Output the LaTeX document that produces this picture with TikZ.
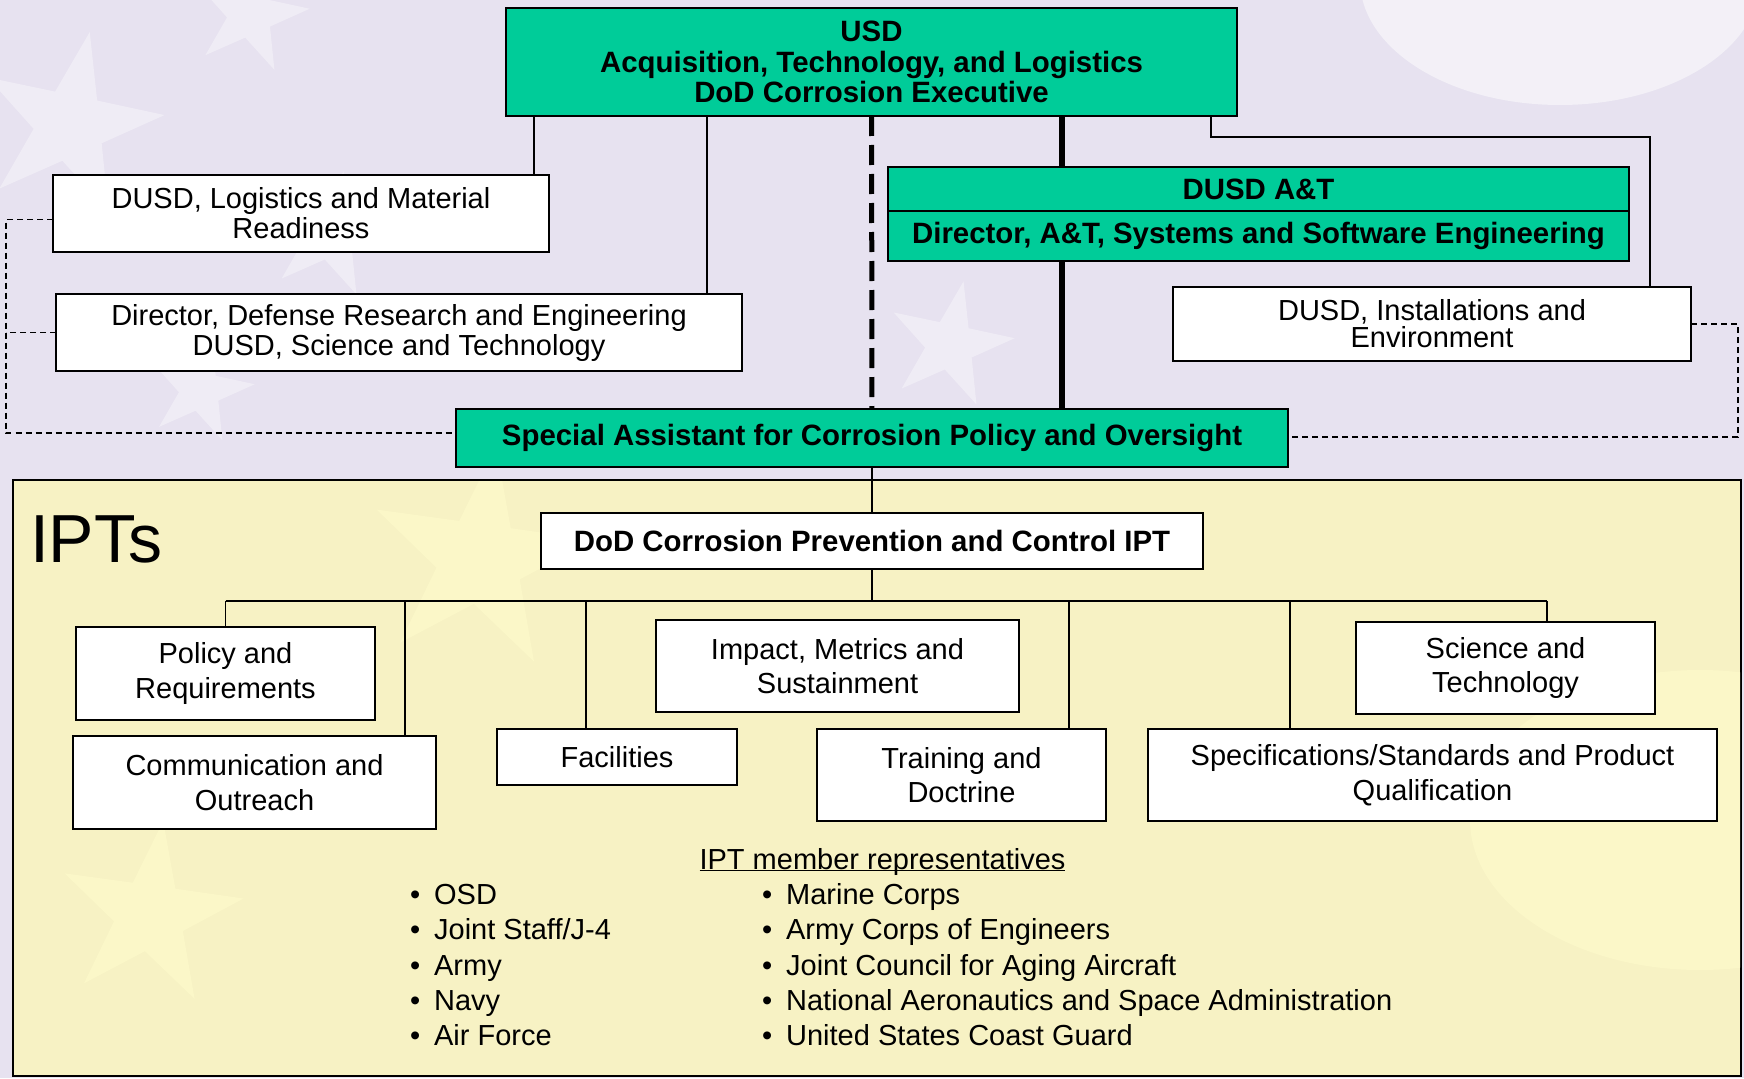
\documentclass[tikz,border=0pt]{standalone}
\usepackage{fontspec}
\setmainfont{Liberation Sans}
\usepackage{xcolor}
\usepackage{tikz}
\usetikzlibrary{shapes.geometric}

\definecolor{boxgreen}{RGB}{0,204,153}
\definecolor{backdrop}{RGB}{231,226,240}
\definecolor{iptfill}{RGB}{247,242,196}
\definecolor{iptglow}{RGB}{251,247,200}

\begin{document}
\begin{tikzpicture}[x=1pt, y=-1pt,
        every node/.style={inner sep=0pt, outer sep=0pt},
        office/.style={draw, line width=1.8pt, fill=white, align=center, font=\fontsize{29}{30}\selectfont},
        team/.style={office, font=\fontsize{29}{34.5}\selectfont},
        head/.style={office, fill=boxgreen, font=\fontsize{29.4}{30.5}\selectfont\bfseries},
        flagstar/.style={star, star points=5, star point ratio=2.6},
        link/.style={line width=1.4pt},
        dashlink/.style={line width=1.4pt, dash pattern=on 6pt off 4pt},
        heavylink/.style={line width=6.5pt},
        heavydash/.style={line width=5pt, dash pattern=on 20pt off 9pt},
        member/.style={anchor=base west, font=\fontsize{29}{34}\selectfont}]

    \useasboundingbox (0,0) rectangle (1744,1078);
    \fill [backdrop] (0,0) rectangle (1744,1078);
    \fill [white, opacity=0.5] (1560,-20) ellipse [x radius=200, y radius=125];
    % faint stars of the backdrop
    \foreach \x/\y/\r [count=\i] in {70/125/190, 250/15/120, 330/235/130, 950/345/130, 200/390/110}
        \node (sky\i) at (\x,\y) [flagstar, fill=white, opacity=0.35, minimum size=\r, rotate=-12] {};

    % IPT frame
    \node (ipts) at (877,778) [draw, line width=2pt, fill=iptfill, minimum width=1728, minimum height=596] {};
    \begin{scope}
        \clip ([xshift=1pt, yshift=-1pt]ipts.north west) rectangle ([xshift=-1pt, yshift=1pt]ipts.south east);
        \fill [iptglow] (1700,820) ellipse [x radius=230, y radius=150];
        \foreach \x/\y/\r [count=\i] in {150/915/190, 480/560/230}
            \node (glow\i) at (\x,\y) [flagstar, fill=iptglow, minimum size=\r, rotate=-8] {};
    \end{scope}
    \node (iptlabel) at (30,562) [anchor=base west, font=\fontsize{68}{72}\selectfont] {IPTs};

    % offices
    \node (usd) at (871.5,62) [head, minimum width=731, minimum height=108] {USD\\Acquisition, Technology, and Logistics\\DoD Corrosion Executive};
    \node (log) at (301,213.5) [office, minimum width=496, minimum height=77] {DUSD, Logistics and Material\\Readiness};
    \node (dre) at (399,332.5) [office, minimum width=686, minimum height=77] {Director, Defense Research and Engineering\\DUSD, Science and Technology};
    \node (ata) at (1258.5,189) [head, minimum width=741, minimum height=44] {DUSD A\&T};
    \node (atb) at (1258.5,236) [head, minimum width=741, minimum height=50] {Director, A\&T, Systems and Software Engineering};
    \node (ie) at (1432,324) [office, font=\fontsize{29}{27}\selectfont, minimum width=518, minimum height=74] {DUSD, Installations and\\Environment};
    \node (spa) at (872,438) [head, minimum width=832, minimum height=58] {Special Assistant for Corrosion Policy and Oversight};

    % teams
    \node (dod) at (872,541) [office, font=\fontsize{29.4}{30}\selectfont\bfseries, minimum width=662, minimum height=56] {DoD Corrosion Prevention and Control IPT};
    \node (pol) at (225.5,673.5) [team, minimum width=299, minimum height=93] {Policy and\\Requirements};
    \node (comm) at (254.5,782.5) [team, minimum width=363, minimum height=93] {Communication and\\Outreach};
    \node (fac) at (617,757) [team, minimum width=240, minimum height=56] {Facilities};
    \node (imp) at (837.5,666) [team, minimum width=363, minimum height=92] {Impact, Metrics and\\Sustainment};
    \node (trn) at (961.5,775) [team, minimum width=289, minimum height=92] {Training and\\Doctrine};
    \node (spec) at (1432.5,775) [team, minimum width=569, minimum height=92] {Specifications/Standards and Product\\Qualification};
    \node (sci) at (1505.5,668) [team, minimum width=299, minimum height=92] {Science and\\Technology};

    % lines from the top
    \draw [link] (usd.south -| 534,0) -- (log.north -| 534,0);
    \draw [link] (usd.south -| 707,0) -- (dre.north -| 707,0);
    \draw [heavydash] (usd) -- (spa);
    \draw [heavylink] (usd.south -| 1062,0) -- (ata.north -| 1062,0);
    \draw [heavylink] (atb.south -| 1062,0) -- (spa.north -| 1062,0);
    \coordinate (ietap) at (1650,137);
    \draw [link] (usd.south -| 1211,0) |- (ietap) -- (ietap |- ie.north);

    % dotted side lines
    \coordinate (lcorner) at (6,433);
    \coordinate (rcorner) at (1738,437);
    \draw [dashlink] ([yshift=-6pt]log.west) -| (lcorner) -- (lcorner -| spa.west);
    \draw [dashlink] (dre.west) -- (dre.west -| lcorner);
    \draw [dashlink] (ie.east) -| (rcorner) -- (rcorner -| spa.east);

    % IPT tree
    \coordinate (busL) at (225.5,601);
    \coordinate (busR) at (1547,601);
    \draw [link] (spa) -- (dod);
    \draw [link] (dod) -- (dod.south |- busL);
    \draw [link] (busL) -- (busR);
    \draw [link] (busL) -- (pol);
    \draw [link] (busL -| 405,0) -- (comm.north -| 405,0);
    \draw [link] (busL -| 586,0) -- (fac.north -| 586,0);
    \draw [link] (busL -| 1069,0) -- (trn.north -| 1069,0);
    \draw [link] (busL -| 1290,0) -- (spec.north -| 1290,0);
    \draw [link] (busR) -- (busR |- sci.north);

    % members
    \node (members) at (882.5,869) [anchor=base, font=\fontsize{29}{34}\selectfont] {\underline{\smash{IPT member representatives}}};
    \foreach \who [count=\i] in {OSD, Joint Staff/J-4, Army, Navy, Air Force}
        \node (left\i) at (410,869.25+35.25*\i) [member] {\textbullet\hspace{14pt}\who};
    \foreach \who [count=\i] in {Marine Corps, Army Corps of Engineers, Joint Council for Aging Aircraft, National Aeronautics and Space Administration, United States Coast Guard}
        \node (right\i) at (762,869.25+35.25*\i) [member] {\textbullet\hspace{14pt}\who};
\end{tikzpicture}
\end{document}
